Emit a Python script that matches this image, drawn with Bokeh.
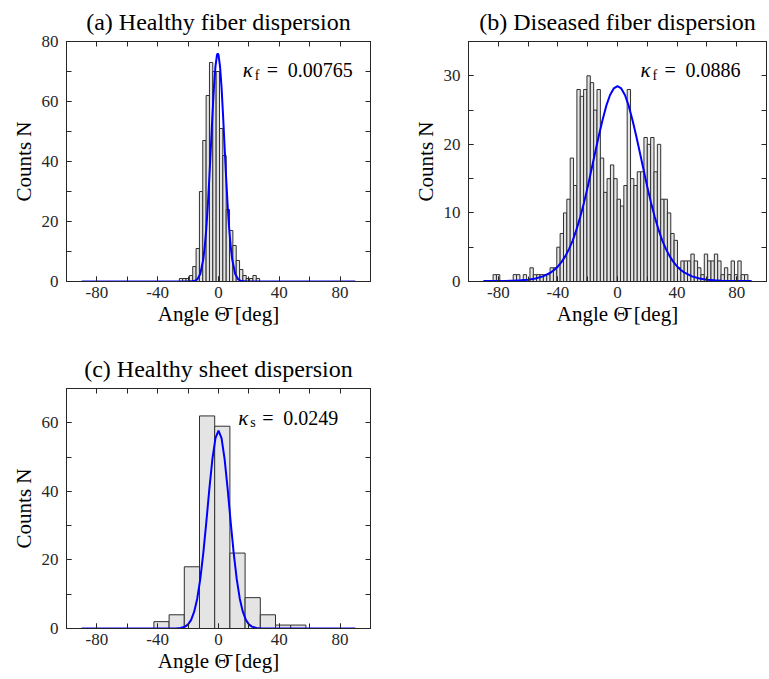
import numpy as np
from bokeh.plotting import figure
from bokeh.layouts import column, row
from bokeh.models import (LinearAxis, SingleIntervalTicker, FixedTicker, Range1d, Label,
                          NumeralTickFormatter)
from bokeh.embed import file_html
from bokeh.resources import INLINE

# ---------------- data ----------------
x_limits = [-100, 100]
x_label = "Angle \u0398\u0304 [deg]"
y_label = "Counts N"

# (a) healthy fiber dispersion
a_title = "(a) Healthy fiber dispersion"
a_ylim = 80
a_bin_start = -25.75
a_bin_width = 2.2
a_counts = [1, 1, 1, 2, 5, 11, 30, 47, 62, 73, 70, 70, 51, 42, 24, 17, 12, 7, 4, 2, 1, 1, 2, 1]
a_fit_x = [-90, -20, -16, -14, -12, -10, -9, -8, -7, -6, -5, -4, -3, -2, -1, -0.5, 0,
           1, 2, 3, 4, 5, 6, 7, 8, 9, 11, 13, 15, 19, 90]
a_fit_y = [0, 0, 0.15, 0.68, 2.5, 7.4, 11.8, 17.8, 25.5, 34.8, 45, 55.4, 64.7, 71.7, 75.5, 76, 75.5,
           71.7, 64.7, 55.4, 45, 34.8, 25.5, 17.8, 11.8, 7.4, 2.5, 0.68, 0.15, 0, 0]
a_kappa = ("f", "0.00765")

# (b) diseased fiber dispersion
b_title = "(b) Diseased fiber dispersion"
b_ylim = 35
b_bin_start = -83.5
b_bin_width = 2.25
b_counts = [1, 1, 0, 0, 0, 0, 1, 1, 0, 1,
            0, 2, 1, 1, 1, 1, 1, 2, 2, 5,
            7, 10, 12, 18, 14, 28, 27, 28, 30, 29,
            25, 28, 18, 13, 15, 17, 15, 12, 11, 14,
            28, 15, 14, 16, 16, 21, 20, 21, 16, 20,
            12, 12, 10, 7, 6, 2, 3, 3, 3, 4,
            3, 2, 1, 4, 3, 3, 4, 3, 1, 2,
            1, 3, 1, 3, 1, 1]
b_fit_x = [-90, -85, -80, -75, -70, -65, -60, -55, -50, -45, -42.5, -40, -37.5, -35, -32.5, -30,
           -27.5, -25, -22.5, -20, -17.5, -15, -12.5, -10, -7.5, -5, -2.5, 0,
           2.5, 5, 7.5, 10, 12.5, 15, 17.5, 20, 22.5, 25, 27.5, 30, 32.5, 35, 37.5, 40,
           42.5, 45, 50, 55, 60, 65, 70, 75, 80, 85, 90]
b_fit_y = [0.06, 0.06, 0.07, 0.09, 0.12, 0.18, 0.27, 0.44, 0.75, 1.29, 1.68, 2.2, 2.86, 3.7, 4.76, 6.0,
           7.6, 9.4, 11.5, 13.8, 16.3, 18.8, 21.3, 23.6, 25.64, 27.2, 28.16, 28.5,
           28.16, 27.2, 25.64, 23.6, 21.3, 18.8, 16.3, 13.8, 11.5, 9.4, 7.6, 6.0, 4.76, 3.7, 2.86, 2.2,
           1.68, 1.29, 0.75, 0.44, 0.27, 0.18, 0.12, 0.09, 0.07, 0.06, 0.06]
b_kappa = ("f", "0.0886")

# (c) healthy sheet dispersion
c_title = "(c) Healthy sheet dispersion"
c_ylim = 70
c_bin_start = -42.5
c_bin_width = 10
c_counts = [2, 4, 18, 62, 59, 22, 9, 4, 1, 1]
c_fit_x = [-90, -28, -25, -22, -20, -18, -16, -14, -12, -10, -8, -6, -4, -2, 0,
           2, 4, 6, 8, 10, 12, 14, 16, 18, 20, 22, 25, 28, 90]
c_fit_y = [0, 0.03, 0.14, 0.54, 1.2, 2.5, 4.9, 8.7, 14.4, 22.0, 31.1, 40.8, 49.5, 55.5, 57.7,
           55.5, 49.5, 40.8, 31.1, 22.0, 14.4, 8.7, 4.9, 2.5, 1.2, 0.54, 0.14, 0.03, 0]
c_kappa = ("s", "0.0249")

# ---------------- style ----------------
FONT = "Liberation Serif"
AX = "#262626"
BAR_FILL = "#e4e4e4"
BAR_LINE = "#303030"
CURVE = "#0000ff"


def style_axis(ax):
    ax.axis_line_color = AX
    ax.axis_line_width = 1
    ax.major_tick_in = 5
    ax.major_tick_out = 0
    ax.minor_tick_in = 5
    ax.minor_tick_out = 0
    ax.major_tick_line_color = AX
    ax.minor_tick_line_color = AX


def panel(title, ylim, ystep, counts, bin_start, bin_width, fit_x, fit_y, kappa, kpos,
          frame_w, borders):
    bl, br, bt, bb = borders
    p = figure(x_range=Range1d(*x_limits), y_range=Range1d(0, ylim),
               frame_width=frame_w, frame_height=240,
               min_border_left=bl, min_border_right=br,
               min_border_top=bt, min_border_bottom=bb,
               toolbar_location=None, output_backend="svg",
               x_axis_label=x_label, y_axis_label=y_label)
    p.title.text = title
    p.title.align = "center"
    p.title.text_font = FONT
    p.title.text_font_size = "24px"
    p.title.text_font_style = "normal"
    p.title.text_color = "black"
    p.title.standoff = 13
    p.grid.visible = False
    p.outline_line_color = AX
    p.background_fill_color = "white"
    p.border_fill_color = "white"

    xt = SingleIntervalTicker(interval=40, num_minor_ticks=2)
    yt = SingleIntervalTicker(interval=2 * ystep, num_minor_ticks=2)
    xa = p.below[0]
    ya = p.left[0]
    xa.ticker = xt
    ya.ticker = yt
    xa.formatter = NumeralTickFormatter(format="0")
    ya.formatter = NumeralTickFormatter(format="0")
    for ax in (xa, ya):
        style_axis(ax)
        ax.major_label_text_font = FONT
        ax.major_label_text_font_size = "17px"
        ax.major_label_text_color = AX
        ax.axis_label_text_font = FONT
        ax.axis_label_text_font_size = "21px"
        ax.axis_label_text_font_style = "normal"
        ax.axis_label_text_color = "black"
    xa.major_label_standoff = 5
    xa.axis_label_standoff = 1
    ya.major_label_standoff = 8
    ya.axis_label_standoff = 3

    # mirrored tick marks on top and right (no labels)
    top = LinearAxis(ticker=FixedTicker(ticks=[], minor_ticks=list(range(-100, 101, 20))))
    right = LinearAxis(ticker=FixedTicker(ticks=[], minor_ticks=list(range(0, ylim + 1, ystep))))
    style_axis(top)
    style_axis(right)
    top.major_label_standoff = 0
    right.major_label_standoff = 0
    p.add_layout(top, "above")
    p.add_layout(right, "right")

    edges = bin_start + bin_width * np.arange(len(counts) + 1)
    p.quad(left=edges[:-1], right=edges[1:], bottom=0, top=counts,
           fill_color=BAR_FILL, line_color=BAR_LINE, line_width=1)
    p.line(fit_x, fit_y, line_color=CURVE, line_width=2)

    kx, ky = kpos
    sub, val = kappa
    common = dict(x=kx, y=ky, text_font=FONT, text_baseline="middle", text_color="black")
    p.add_layout(Label(text="\u03ba", text_font_style="italic", text_font_size="21px", **common))
    p.add_layout(Label(text=sub, x_offset=12, y_offset=-5, text_font_size="14px", **common))
    p.add_layout(Label(text="=", x_offset=24, text_font_size="20px", **common))
    p.add_layout(Label(text=val, x_offset=45, text_font_size="20px", **common))
    return p


pa = panel(a_title, a_ylim, 10, a_counts, a_bin_start, a_bin_width, a_fit_x, a_fit_y,
           a_kappa, (16.0, 70.5), 304, (66, 40, 41, 66))
pb = panel(b_title, b_ylim, 5, b_counts, b_bin_start, b_bin_width, b_fit_x, b_fit_y,
           b_kappa, (15.5, 30.8), 298, (58, 2, 41, 66))
pc = panel(c_title, c_ylim, 10, c_counts, c_bin_start, c_bin_width, c_fit_x, c_fit_y,
           c_kappa, (13.0, 61.5), 304, (66, 40, 41, 46))

layout = column(row(pa, pb), pc)

open("out.html", "w").write(file_html(layout, INLINE))
